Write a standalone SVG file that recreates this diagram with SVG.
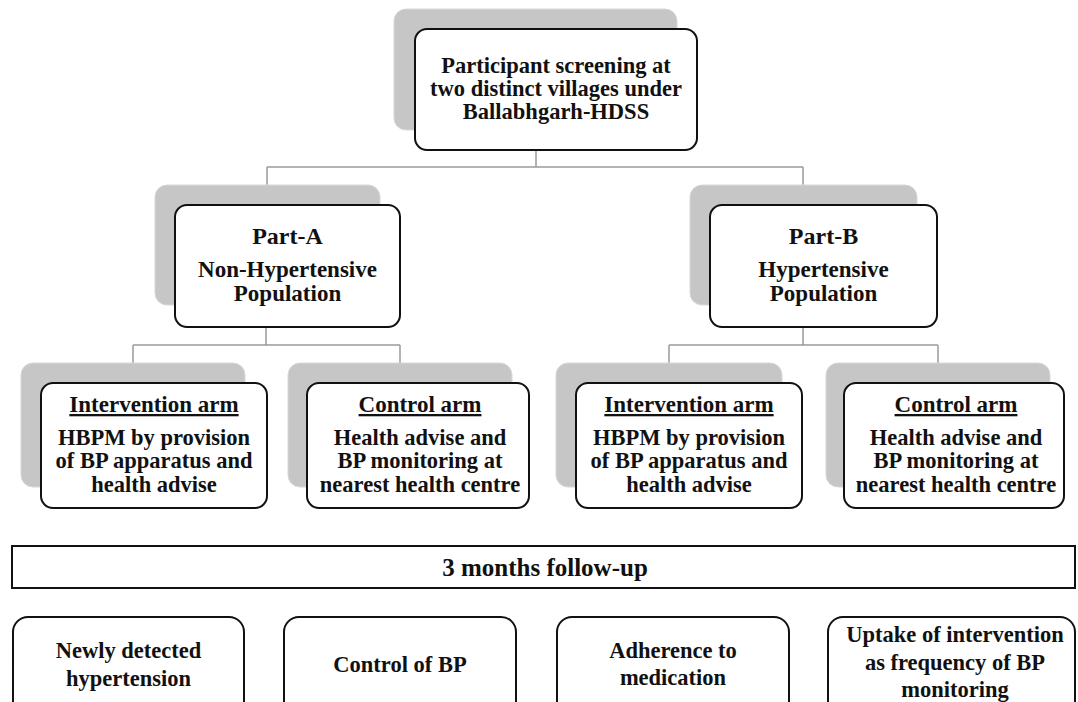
<svg xmlns="http://www.w3.org/2000/svg" width="1078" height="702" viewBox="0 0 1078 702">
<style>
.bg{fill:#ffffff}
.sh{fill:#c6c6c6;stroke:#d8d8d8;stroke-width:1}
.fr{fill:#ffffff;stroke:#111111;stroke-width:2}
.conn{fill:none;stroke:#9a9a9a;stroke-width:1.5}
text{font-family:"Liberation Serif","Times New Roman",serif;font-weight:bold;fill:#111111;text-anchor:middle}
.t22{font-size:22.5px}
.t23{font-size:23px}
.t24{font-size:24px}
.t25{font-size:25px}
.u{text-decoration:underline}
</style>
<rect class="bg" x="0" y="0" width="1078" height="702"/>
<g id="connectors">
<path class="conn" d="M536,150 V167 M267,167 H803 M267,167 V185 M803,167 V185"/>
<path class="conn" d="M266,327 V345 M133,345 H400 M133,345 V363 M400,345 V363"/>
<path class="conn" d="M803,327 V345 M669,345 H938 M669,345 V363 M938,345 V363"/>
</g>
<g id="screening">
<rect class="sh" x="394" y="9" width="283" height="121" rx="12"/>
<rect class="fr" x="415" y="29" width="282" height="121" rx="12"/>
<text class="t22" x="556" y="73">Participant screening at</text>
<text class="t22" x="556" y="96">two distinct villages under</text>
<text class="t22" x="556" y="119">Ballabhgarh-HDSS</text>
</g>
<g id="partA">
<rect class="sh" x="155" y="185" width="225" height="120" rx="12"/>
<rect class="fr" x="175" y="205" width="225" height="122" rx="12"/>
<text class="t24" x="287.5" y="244">Part-A</text>
<text class="t23" x="287.5" y="277">Non-Hypertensive</text>
<text class="t23" x="287.5" y="301">Population</text>
</g>
<g id="partB">
<rect class="sh" x="690" y="185" width="227" height="120" rx="12"/>
<rect class="fr" x="710" y="205" width="227" height="122" rx="12"/>
<text class="t24" x="823.5" y="244">Part-B</text>
<text class="t23" x="823.5" y="277">Hypertensive</text>
<text class="t23" x="823.5" y="301">Population</text>
</g>
<g id="interventionA">
<rect class="sh" x="21" y="363" width="224" height="124" rx="12"/>
<rect class="fr" x="41" y="383" width="226" height="125" rx="12"/>
<text class="t23 u" x="154" y="412">Intervention arm</text>
<text class="t22" x="154" y="445">HBPM by provision</text>
<text class="t22" x="154" y="468">of BP apparatus and</text>
<text class="t22" x="154" y="492">health advise</text>
</g>
<g id="controlA">
<rect class="sh" x="288" y="363" width="224" height="124" rx="12"/>
<rect class="fr" x="307" y="383" width="222" height="125" rx="12"/>
<text class="t23 u" x="420" y="412">Control arm</text>
<text class="t22" x="420" y="445">Health advise and</text>
<text class="t22" x="420" y="468">BP monitoring at</text>
<text class="t22" x="420" y="492">nearest health centre</text>
</g>
<g id="interventionB">
<rect class="sh" x="556" y="363" width="226" height="124" rx="12"/>
<rect class="fr" x="576" y="383" width="226" height="125" rx="12"/>
<text class="t23 u" x="689" y="412">Intervention arm</text>
<text class="t22" x="689" y="445">HBPM by provision</text>
<text class="t22" x="689" y="468">of BP apparatus and</text>
<text class="t22" x="689" y="492">health advise</text>
</g>
<g id="controlB">
<rect class="sh" x="826" y="363" width="224" height="124" rx="12"/>
<rect class="fr" x="844" y="383" width="220" height="125" rx="12"/>
<text class="t23 u" x="956" y="412">Control arm</text>
<text class="t22" x="956" y="445">Health advise and</text>
<text class="t22" x="956" y="468">BP monitoring at</text>
<text class="t22" x="956" y="492">nearest health centre</text>
</g>
<g id="followup">
<rect x="12" y="546" width="1063" height="42" fill="#ffffff" stroke="#111111" stroke-width="2"/>
<text class="t25" x="545" y="576">3 months follow-up</text>
</g>
<g id="newly">
<rect class="fr" x="13" y="617" width="231" height="100" rx="15"/>
<text class="t22" x="128.5" y="658">Newly detected</text>
<text class="t22" x="128.5" y="686">hypertension</text>
</g>
<g id="controlbp">
<rect class="fr" x="284" y="617" width="232" height="100" rx="15"/>
<text class="t22" x="400" y="672">Control of BP</text>
</g>
<g id="adherence">
<rect class="fr" x="557" y="617" width="232" height="100" rx="15"/>
<text class="t22" x="673" y="658">Adherence to</text>
<text class="t22" x="673" y="685">medication</text>
</g>
<g id="uptake">
<rect class="fr" x="828" y="617" width="247" height="100" rx="15"/>
<text class="t22" x="955" y="642">Uptake of intervention</text>
<text class="t22" x="955" y="670">as frequency of BP</text>
<text class="t22" x="955" y="697">monitoring</text>
</g>
</svg>
